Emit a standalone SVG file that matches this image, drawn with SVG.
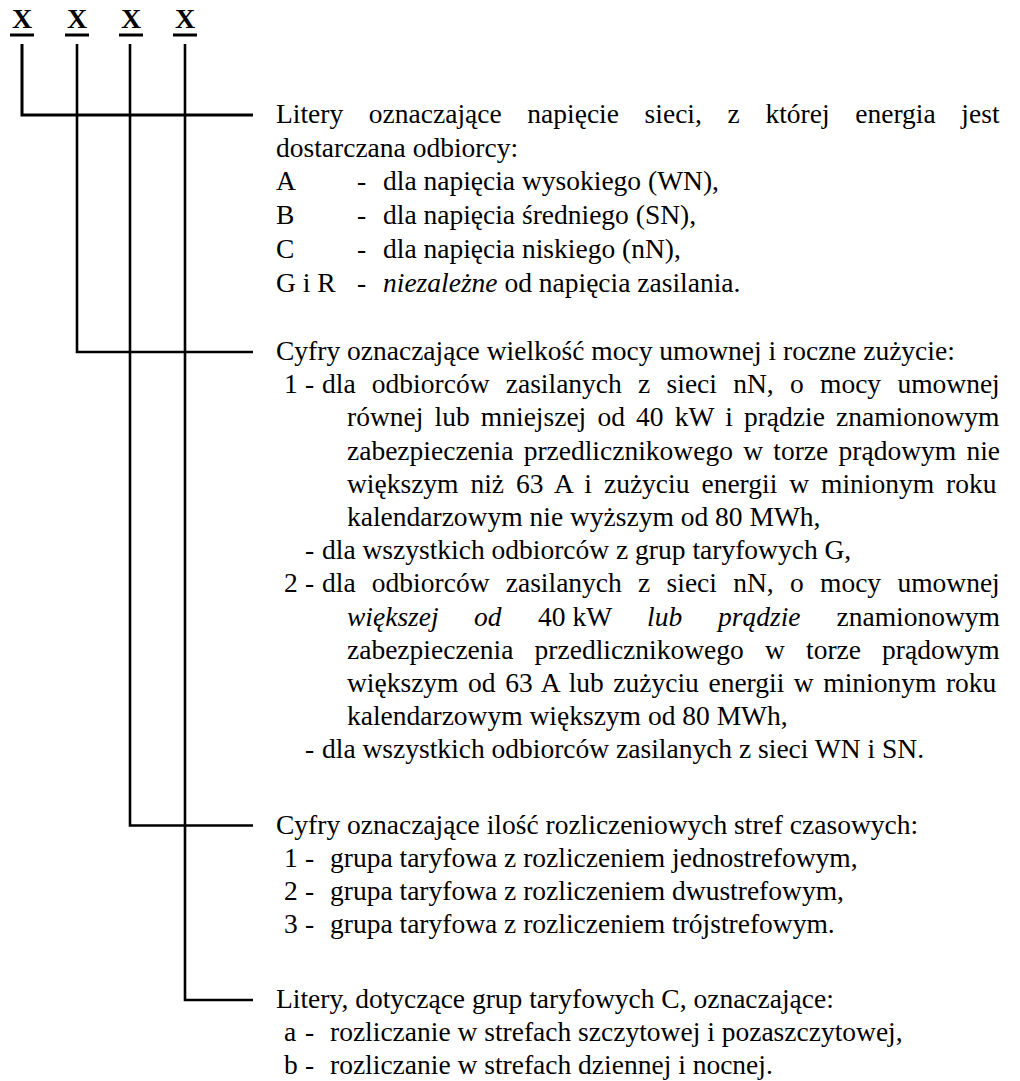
<svg xmlns="http://www.w3.org/2000/svg" width="1020" height="1081" viewBox="0 0 1020 1081">
<style>
text{font-family:"Liberation Serif","Times New Roman",serif;font-size:27.5px;fill:#000}
.x{font-weight:bold;font-size:28px;text-anchor:middle}
.i{font-style:italic}
.ln{stroke:#000;stroke-width:2.6;fill:none}
</style>
<rect width="1020" height="1081" fill="#fff"/>
<g id="codes">
<text class="x" x="22" y="28">X</text>
<text class="x" x="77" y="28">X</text>
<text class="x" x="131" y="28">X</text>
<text class="x" x="185" y="28">X</text>
<path class="ln" style="stroke-width:3" d="M10 35H34M65 35H89M119 35H143M173 35H197"/>
</g>
<g id="connectors">
<path class="ln" style="stroke-width:3" d="M22 44V115H253"/>
<path class="ln" d="M77 44V352H253"/>
<path class="ln" d="M130 44V825.5H253"/>
<path class="ln" d="M185 44V1000H253"/>
</g>
<g id="sec1">
<text x="276" y="123" word-spacing="18.8">Litery oznaczające napięcie sieci, z której energia jest</text>
<text x="276" y="156.7">dostarczana odbiorcy:</text>
<text y="190.4"><tspan x="276">A</tspan><tspan x="357">-</tspan><tspan x="383">dla napięcia wysokiego (WN),</tspan></text>
<text y="224.1"><tspan x="276">B</tspan><tspan x="357">-</tspan><tspan x="383">dla napięcia średniego (SN),</tspan></text>
<text y="257.8"><tspan x="276">C</tspan><tspan x="357">-</tspan><tspan x="383">dla napięcia niskiego (nN),</tspan></text>
<text y="291.5"><tspan x="276">G i R</tspan><tspan x="357">-</tspan><tspan x="383" class="i">niezależne</tspan> od napięcia zasilania.</text>
</g>
<g id="sec2">
<text x="276" y="360">Cyfry oznaczające wielkość mocy umownej i roczne zużycie:</text>
<text y="393.2"><tspan x="284">1</tspan><tspan x="305">-</tspan><tspan x="322" word-spacing="9.4">dla odbiorców zasilanych z sieci nN, o mocy umownej</tspan></text>
<text x="347" y="426.4" word-spacing="4.3">równej lub mniejszej od 40 kW i prądzie znamionowym</text>
<text x="347" y="459.6" word-spacing="3.4">zabezpieczenia przedlicznikowego w torze prądowym nie</text>
<text x="347" y="492.8" word-spacing="5.1">większym niż 63 A i zużyciu energii w minionym roku</text>
<text x="347" y="526">kalendarzowym nie wyższym od 80 MWh,</text>
<text y="559.2"><tspan x="305">-</tspan><tspan x="322">dla wszystkich odbiorców z grup taryfowych G,</tspan></text>
<text y="592.4"><tspan x="284">2</tspan><tspan x="305">-</tspan><tspan x="322" word-spacing="9.4">dla odbiorców zasilanych z sieci nN, o mocy umownej</tspan></text>
<text y="625.6"><tspan x="347" class="i">większej</tspan><tspan x="474" class="i">od</tspan><tspan x="538">40 kW</tspan><tspan x="647" class="i">lub</tspan><tspan x="718" class="i">prądzie</tspan><tspan x="1000" text-anchor="end">znamionowym</tspan></text>
<text x="347" y="658.8" word-spacing="14.3">zabezpieczenia przedlicznikowego w torze prądowym</text>
<text x="347" y="692" word-spacing="2.7">większym od 63 A lub zużyciu energii w minionym roku</text>
<text x="347" y="725.2">kalendarzowym większym od 80 MWh,</text>
<text y="758.4"><tspan x="305">-</tspan><tspan x="322">dla wszystkich odbiorców zasilanych z sieci WN i SN.</tspan></text>
</g>
<g id="sec3">
<text x="276" y="833.5">Cyfry oznaczające ilość rozliczeniowych stref czasowych:</text>
<text y="866.7"><tspan x="284">1</tspan><tspan x="305">-</tspan><tspan x="330">grupa taryfowa z rozliczeniem jednostrefowym,</tspan></text>
<text y="899.9"><tspan x="284">2</tspan><tspan x="305">-</tspan><tspan x="330">grupa taryfowa z rozliczeniem dwustrefowym,</tspan></text>
<text y="933.1"><tspan x="284">3</tspan><tspan x="305">-</tspan><tspan x="330">grupa taryfowa z rozliczeniem trójstrefowym.</tspan></text>
</g>
<g id="sec4">
<text x="276" y="1008">Litery, dotyczące grup taryfowych C, oznaczające:</text>
<text y="1041"><tspan x="284">a</tspan><tspan x="305">-</tspan><tspan x="330">rozliczanie w strefach szczytowej i pozaszczytowej,</tspan></text>
<text y="1074"><tspan x="284">b</tspan><tspan x="305">-</tspan><tspan x="330">rozliczanie w strefach dziennej i nocnej.</tspan></text>
</g>
</svg>
